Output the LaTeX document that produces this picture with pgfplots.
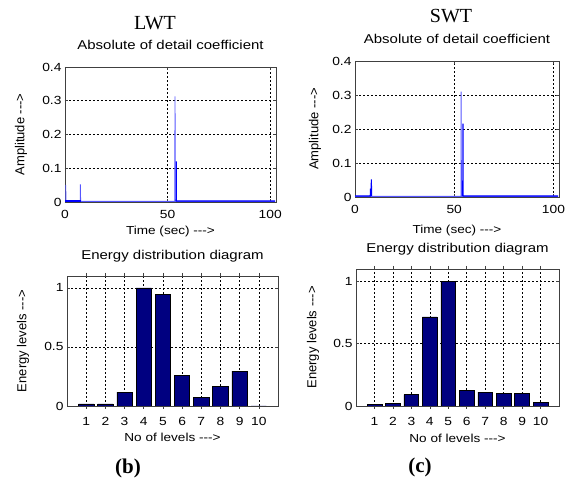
\documentclass[border=0pt]{standalone}
\usepackage{pgfplots}
\pgfplotsset{compat=1.18}
\usepackage{fontspec}
\setmainfont{Liberation Sans}
\newfontfamily\lab{Liberation Sans}[FakeStretch=1.17]
\newfontfamily\ylab{Liberation Sans}
\newfontfamily\ser{Liberation Serif}
\definecolor{barnavy}{RGB}{0,0,128}
\definecolor{lightblue}{RGB}{85,85,255}

\pgfplotsset{
  ml/.style={
    scale only axis,
    axis line style={black!75, line width=0.8pt},
    tick align=inside,
    major tick length=3pt,
    tick style={black!75, line width=0.6pt},
    grid=major,
    grid style={black, dash pattern=on 2pt off 2pt, line width=0.5pt},
    /pgf/number format/assume math mode=true,
    tick label style={font=\lab\fontsize{11.8}{13}\selectfont},
    xticklabel style={anchor=base, yshift=-17pt},
    title style={font=\lab\fontsize{12.8}{14}\selectfont, anchor=base},
    xlabel style={font=\lab\fontsize{11.6}{13}\selectfont, anchor=base},
    ylabel style={font=\ylab\fontsize{13}{15}\selectfont, anchor=center},
  },
  topax/.style={ml, xmin=0, xmax=102.8, ymin=0, ymax=0.4,
    xtick={0,50,100}, xticklabels={0,50,100},
    ytick={0,0.1,0.2,0.3,0.4}, yticklabels={0,0.1,0.2,0.3,0.4},
    xlabel={Time (sec) -{}-{}->}, ylabel={Amplitude -{}-{}->},
    title={Absolute of detail coefficient}},
  botax/.style={ml, ybar, bar width=0.8, xmin=0, xmax=11, ymin=0, ymax=1.1,
    xtick={1,2,...,10}, xticklabels={1,2,3,4,5,6,7,8,9,10},
    ytick={0,0.5,1}, yticklabels={0,0.5,1},
    xlabel={No of levels -{}-{}->}, ylabel={Energy levels -{}-{}->},
    title={Energy distribution diagram}},
}

\begin{document}
\begin{tikzpicture}
\path[use as bounding box] (0pt,0pt) rectangle (568pt,479pt);

% LWT detail coefficient
\begin{axis}[topax, at={(65pt,277pt)}, anchor=south west, width=211pt, height=135pt,
  title style={at={(axis description cs:0.5,1.087)}},
  xlabel style={at={(axis description cs:0.5,-0.239)}},
  ylabel style={at={(axis description cs:-0.209,0.5)}}]
\addplot[lightblue, line width=0.9pt] coordinates {
  (0.35,0.051) (0.45,0.002) (7.4,0.002) (7.5,0.052) (7.6,0.002)
  (53.5,0.002) (53.6,0.313) (53.7,0.002) (102.4,0.002)};
\addplot[blue, line width=1.1pt] coordinates {
  (0,0.003) (7.7,0.003)};
\addplot[blue, line width=1.1pt] coordinates {
  (54.1,0.003) (54.2,0.12) (54.3,0.003) (102.4,0.003)};
\end{axis}

% SWT detail coefficient
\begin{axis}[topax, at={(355pt,282pt)}, anchor=south west, width=204pt, height=136pt,
  title style={at={(axis description cs:0.5,1.086)}},
  xlabel style={at={(axis description cs:0.5,-0.267)}},
  ylabel style={at={(axis description cs:-0.196,0.5)}}]
\addplot[lightblue, line width=0.9pt] coordinates {
  (0,0.002) (53.4,0.002) (53.5,0.31) (53.6,0.002) (102.4,0.002)};
\addplot[blue, line width=1.1pt] coordinates {
  (0,0.003) (7.7,0.003) (7.75,0.023) (8.15,0.023) (8.25,0.052) (8.35,0.003)};
\addplot[blue, line width=1.1pt] coordinates {
  (54.3,0.003) (54.4,0.216) (54.5,0.003) (102.4,0.003)};
\end{axis}

% LWT energy
\begin{axis}[botax, at={(67pt,73pt)}, anchor=south west, width=211pt, height=130pt,
  title style={at={(axis description cs:0.5,1.079)}},
  xlabel style={at={(axis description cs:0.5,-0.274)}},
  ylabel style={at={(axis description cs:-0.209,0.5)}}]
\addplot[fill=barnavy, draw=black, line width=0.6pt] coordinates {
  (1,0.018) (2,0.018) (3,0.118) (4,1.0) (5,0.944) (6,0.259)
  (7,0.076) (8,0.166) (9,0.296) (10,0)};
\end{axis}

% SWT energy
\begin{axis}[botax, at={(356pt,73pt)}, anchor=south west, width=203pt, height=137pt,
  title style={at={(axis description cs:0.5,1.078)}},
  xlabel style={at={(axis description cs:0.5,-0.265)}},
  ylabel style={at={(axis description cs:-0.212,0.5)}}]
\addplot[fill=barnavy, draw=black, line width=0.6pt] coordinates {
  (1,0.012) (2,0.018) (3,0.092) (4,0.716) (5,1.0) (6,0.127)
  (7,0.111) (8,0.1) (9,0.1) (10,0.027)};
\end{axis}

\node[font=\ser\fontsize{20}{22}\selectfont] at (155pt,456pt) {LWT};
\node[font=\ser\fontsize{20}{22}\selectfont] at (451pt,463pt) {SWT};
\node[font=\ser\bfseries\fontsize{21}{23}\selectfont] at (128pt,11pt) {(b)};
\node[font=\ser\bfseries\fontsize{21}{23}\selectfont] at (420pt,12pt) {(c)};
\end{tikzpicture}
\end{document}
